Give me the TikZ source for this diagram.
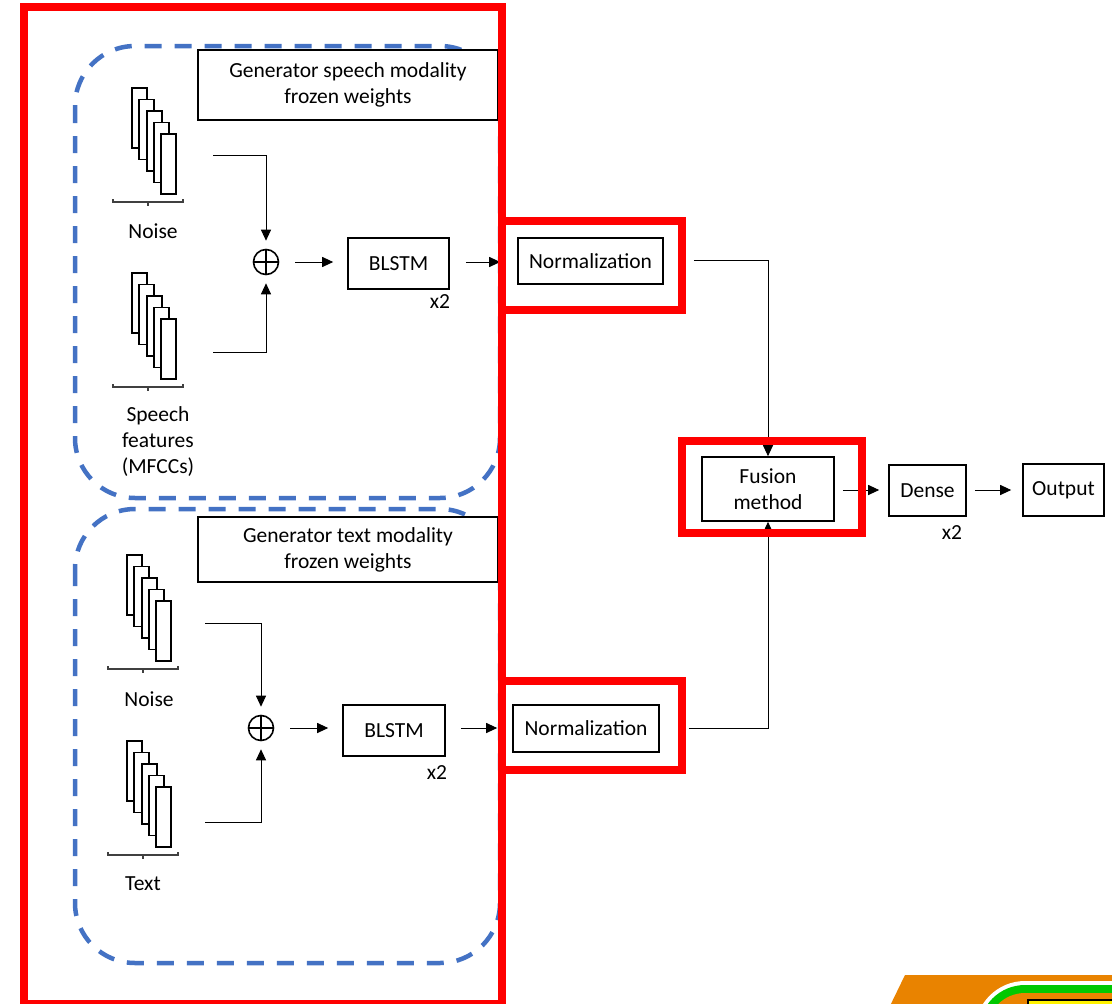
\documentclass[tikz,border=0pt]{standalone}
\usepackage{fontspec}
\setmainfont{Carlito}
\usetikzlibrary{arrows.meta}
\definecolor{dashblue}{RGB}{68,114,196}
\definecolor{hilite}{RGB}{255,0,0}
\definecolor{badgeorange}{RGB}{233,131,0}
\definecolor{badgegreen}{RGB}{0,200,0}

\tikzset{
  framestack/.pic={
    \foreach \i in {0,...,4}{
      \draw[line width=1.8pt, fill=white] (7.3*\i,11.5*\i) rectangle ++(15,60);
    }
    \draw[line width=1.1pt, draw=black!75]
      (-19,111) -- (-19,114) -- (51,114) -- (51,111)
      (16,114) -- (16,118);
  }
}

\begin{document}
\begin{tikzpicture}[x=1pt, y=-1pt,
  font=\fontsize{21.5}{26}\selectfont,
  blk/.style={draw, line width=1.6pt, fill=white, inner sep=0pt, align=center},
  capbox/.style={draw, line width=1.1pt, fill=white, inner sep=0pt, align=center},
  arr/.style={-{Triangle[length=11pt,width=10pt]}, line width=1pt},
  sumnode/.style={circle, draw, line width=1.6pt, minimum size=25pt, inner sep=0pt,
    path picture={\draw[line width=1.6pt]
      (path picture bounding box.north) -- (path picture bounding box.south)
      (path picture bounding box.west) -- (path picture bounding box.east);}},
  region/.style={draw=dashblue, line width=4.5pt, dash pattern=on 17pt off 13pt, rounded corners=60pt},
  redframe/.style={draw=hilite, line width=8pt},
  lbl/.style={inner sep=0pt, align=center}
]
\useasboundingbox (0,0) rectangle (1112,1004);
\clip (0,0) rectangle (1112,1004);
\fill[white] (0,0) rectangle (1112,1004);

% dashed generator regions
\draw[region] (75,46) rectangle (500,498);
\draw[region] (75,509) rectangle (500,963);

% caption boxes
\node[capbox, minimum width=300pt, minimum height=70pt] (gspeech) at (348,85)
  {Generator speech modality\\frozen weights};
\node[capbox, minimum width=300pt, minimum height=65pt] (gtext) at (348,549.5)
  {Generator text modality\\frozen weights};

% input stacks
\pic at (132,88) {framestack};
\pic at (132,273) {framestack};
\pic at (127,555) {framestack};
\pic at (127,741) {framestack};

\node[lbl] (lnoise1) at (153,231) {Noise};
\node[lbl] (lspeech) at (158,442) {Speech\\features\\(MFCCs)};
\node[lbl] (lnoise2) at (149,699) {Noise};
\node[lbl] (ltext) at (143,884) {Text};

\coordinate (n1out) at (213,155);
\coordinate (s1out) at (213,352);
\coordinate (n2out) at (205,623);
\coordinate (t2out) at (205,822);

% processing blocks
\node[sumnode] (op1) at (266,262) {};
\node[sumnode] (op2) at (261,728) {};

\node[blk, minimum width=101pt, minimum height=51pt] (blstm1) at (398.5,263.5) {BLSTM};
\node[blk, minimum width=102pt, minimum height=51pt] (blstm2) at (394,730.5) {BLSTM};
\node[lbl] (rep1) at (440,302) {x2};
\node[lbl] (rep2) at (437,773) {x2};

\node[blk, minimum width=145pt, minimum height=46pt] (norm1) at (590.5,261) {Normalization};
\node[blk, minimum width=146pt, minimum height=47pt] (norm2) at (586,728.5) {Normalization};

\node[blk, minimum width=132pt, minimum height=64pt] (fusion) at (768,489) {Fusion\\method};
\node[blk, minimum width=77pt, minimum height=51pt] (dense) at (927.5,490.5) {Dense};
\node[lbl] (rep3) at (952,533) {x2};
\node[blk, minimum width=81pt, minimum height=52pt] (output) at (1063.5,490) {Output};

% connectors
\draw[arr, shorten >=8pt] (n1out) -| (op1.north);
\draw[arr, shorten >=8pt] (s1out) -| (op1.south);
\draw[arr, shorten >=8pt] (n2out) -| (op2.north);
\draw[arr, shorten >=8pt] (t2out) -| (op2.south);

\draw[arr, shorten <=16pt, shorten >=14pt] (op1.east) -- (op1.east -| blstm1.west);
\draw[arr, shorten <=16pt, shorten >=14pt] (op2.east) -- (op2.east -| blstm2.west);

\draw[arr, shorten <=16pt, shorten >=17pt] (blstm1.east |- op1) -- (norm1.west |- op1);
\draw[arr, shorten <=15pt, shorten >=15pt] (blstm2.east |- op2) -- (norm2.west |- op2);

\draw[arr, shorten <=30pt] (norm1.east |- 0,260) -| (fusion.north);
\draw[arr, shorten <=29pt] (norm2.east) -| (fusion.south);

\draw[arr, shorten <=8pt, shorten >=9pt] (fusion.east |- 0,490) -- (dense.west |- 0,490);
\draw[arr, shorten <=8pt, shorten >=11pt] (dense.east |- 0,490) -- (output.west |- 0,490);

% highlight frames
\draw[redframe] (24,7) rectangle (502,1004);
\draw[redframe] (502,221) rectangle (682,310);
\draw[redframe] (502,681) rectangle (682,770);
\draw[redframe] (682,441) rectangle (862,533);

% corner badge
\fill[badgeorange] (905,975) -- (1120,975) -- (1120,1010) -- (888,1010) -- cycle;
\fill[white, rounded corners=50pt] (975,981) rectangle (1200,1100);
\fill[badgegreen, rounded corners=46pt] (979,985) rectangle (1200,1100);
\fill[badgeorange, rounded corners=38pt] (987,993) rectangle (1200,1100);
\draw[black, line width=2pt, fill=yellow] (1028,1000) rectangle (1200,1100);
\end{tikzpicture}
\end{document}
